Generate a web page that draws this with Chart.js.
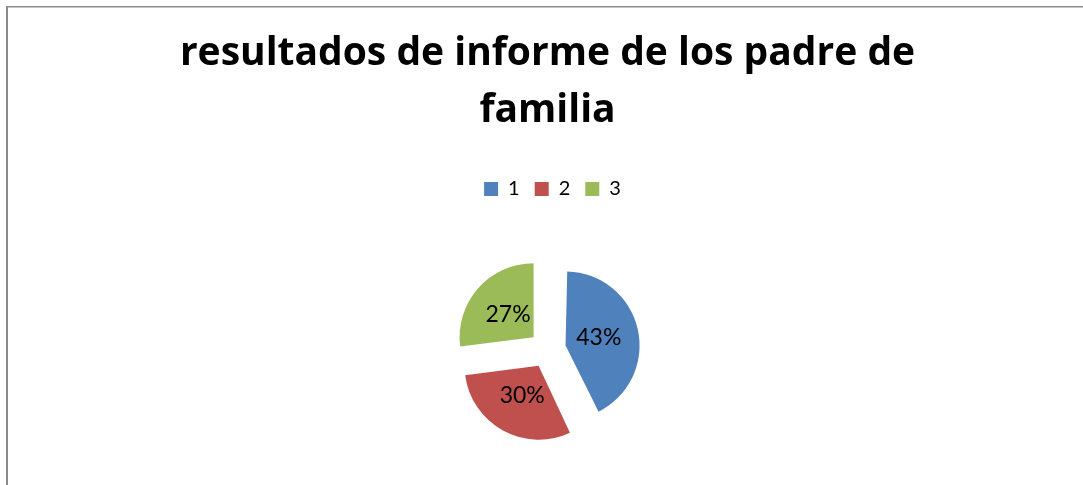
<!DOCTYPE html>
<html>
<head>
<meta charset="utf-8">
<script src="https://cdn.jsdelivr.net/npm/chart.js@4/dist/chart.umd.min.js"></script>
<style>
  html, body { margin: 0; padding: 0; background: #fff; overflow: hidden; width: 1083px; height: 485px; }
  #c { position: absolute; left: 6px; top: 6px; }
</style>
</head>
<body>
<canvas id="c" width="1083" height="500"></canvas>
<script>
const titleLines = ['resultados de informe de los padre de', 'familia'];
const categories = ['1', '2', '3'];
const values = [43, 30, 27];
const sliceColors = ['#4F81BD', '#C0504D', '#9BBB59'];

const frameBorder = {
  id: 'frameBorder',
  afterDraw(chart) {
    const ctx = chart.ctx;
    ctx.save();
    ctx.fillStyle = '#8a8a8a';
    ctx.fillRect(0, 0, 2, chart.height);
    ctx.fillRect(0, 0, chart.width, 1.5);
    ctx.restore();
  }
};

// nudge the legend row a few pixels right, as in the reference
const legendNudge = {
  id: 'legendNudge',
  afterLayout(chart) {
    if (chart.legend) {
      chart.legend.left += 5;
      chart.legend.right += 5;
    }
  }
};

// Chart.js enlarges exploded slices by (offset/4)*(1-sin(circumference));
// keep every slice at the same radius, as in the reference.
const equalRadius = {
  id: 'equalRadius',
  beforeDatasetsDraw(chart) {
    const meta = chart.getDatasetMeta(0);
    const R = meta.controller.outerRadius;
    meta.data.forEach(arc => {
      const off = (arc.options.offset || 0) / 4;
      const circ = arc.endAngle - arc.startAngle;
      const fix = 1 - Math.sin(Math.min(Math.PI, circ));
      arc.outerRadius = R - off * fix;
    });
  }
};

const pctLabels = {
  id: 'pctLabels',
  afterDatasetsDraw(chart) {
    const ctx = chart.ctx;
    const meta = chart.getDatasetMeta(0);
    const R = meta.controller.outerRadius;
    const data = chart.data.datasets[0].data;
    const total = data.reduce((a, b) => a + b, 0);
    ctx.save();
    ctx.font = '23px Lato';
    ctx.fillStyle = '#000';
    ctx.textAlign = 'center';
    ctx.textBaseline = 'middle';
    meta.data.forEach((arc, i) => {
      const mid = (arc.startAngle + arc.endAngle) / 2;
      const off = (arc.options.offset || 0) / 4;
      const d = off + R * 0.46;
      const x = arc.x + Math.cos(mid) * d;
      const y = arc.y + Math.sin(mid) * d;
      ctx.fillText(Math.round(data[i] / total * 100) + '%', x, y);
    });
    ctx.restore();
  }
};

new Chart(document.getElementById('c'), {
  type: 'pie',
  data: {
    labels: categories,
    datasets: [{
      data: values,
      backgroundColor: sliceColors,
      borderWidth: 0,
      offset: 74
    }]
  },
  options: {
    responsive: false,
    animation: false,
    radius: 74,
    layout: { padding: { top: 0, bottom: 16, left: 0, right: 0 } },
    plugins: {
      title: {
        display: true,
        text: titleLines,
        color: '#000',
        font: { family: 'Open Sans', weight: 'bold', size: 39, lineHeight: 57 / 39 },
        padding: { top: 19, bottom: 25 }
      },
      legend: {
        display: true,
        position: 'top',
        labels: {
          color: '#000',
          font: { family: 'Lato', size: 20 },
          boxWidth: 14,
          boxHeight: 14,
          padding: 15
        }
      },
      tooltip: { enabled: false }
    }
  },
  plugins: [frameBorder, legendNudge, equalRadius, pctLabels]
});
</script>
</body>
</html>
